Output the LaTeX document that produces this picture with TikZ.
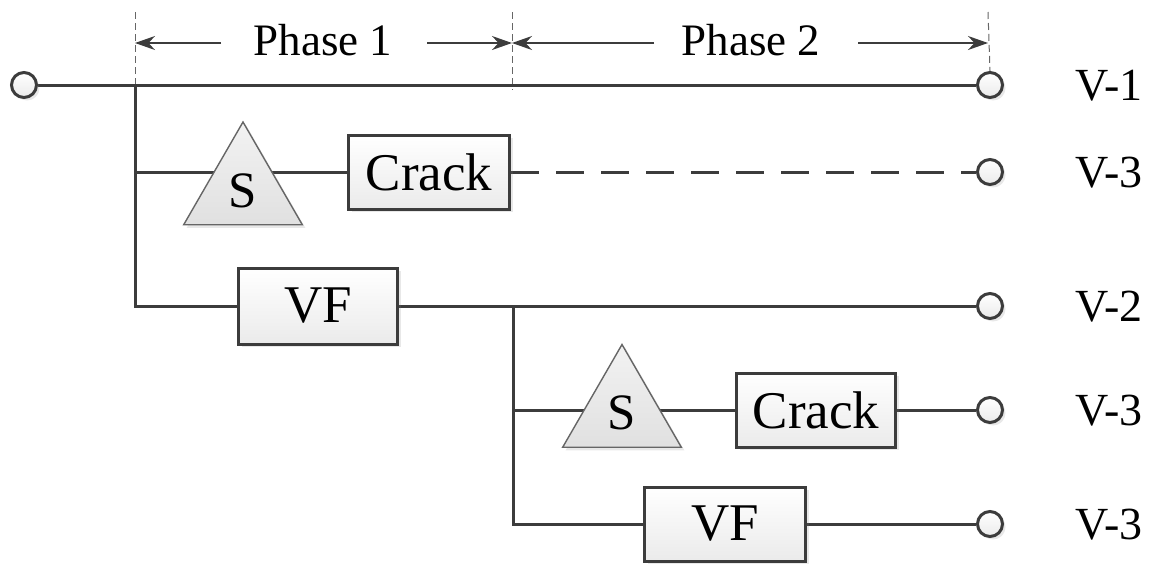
\documentclass[tikz,border=0pt]{standalone}
\usepackage{fontspec}
\setmainfont{Liberation Serif}
\usetikzlibrary{shapes.geometric,shadows,arrows.meta}
\pgfdeclarelayer{bg}
\pgfsetlayers{bg,main}
\definecolor{ink}{HTML}{3C3C3C}
\tikzset{
  wire/.style={draw=ink, line width=3pt},
  dashwire/.style={wire, dash pattern=on 28pt off 17pt},
  softshadow/.style={drop shadow={shadow xshift=3pt, shadow yshift=-3pt, opacity=0.18}},
  box/.style={rectangle, draw=ink, line width=3pt, inner sep=0pt,
    top color=white, bottom color=black!8, softshadow,
    font=\fontsize{53}{56}\selectfont},
  sensor/.style={regular polygon, regular polygon sides=3, minimum size=137pt,
    inner sep=0pt, draw=black!60, line width=1.4pt,
    top color=black!5, bottom color=black!12, softshadow,
    font=\fontsize{51}{54}\selectfont},
  port/.style={circle, draw=ink, line width=3pt, minimum size=25pt, inner sep=0pt,
    top color=white, bottom color=black!8, softshadow},
  tag/.style={anchor=base west, font=\fontsize{46}{50}\selectfont},
  phase/.style={anchor=base, font=\fontsize{45}{50}\selectfont},
  guide/.style={draw=black!60, line width=1pt, dash pattern=on 7pt off 4pt},
  span/.style={draw=ink, line width=1.3pt, -{Stealth[length=20pt,width=14pt]}},
}
\begin{document}
\begin{tikzpicture}[x=1pt,y=-1pt]
\useasboundingbox (0,0) rectangle (1154,563);

% junction points of the feeder lines
\coordinate (j1) at (135,85);
\coordinate (j2) at (135,172);
\coordinate (j3) at (135,306);
\coordinate (j4) at (513,306);
\coordinate (j5) at (513,410);
\coordinate (j6) at (513,524);

% input and output terminals
\node[port] (in) at (24,85) {};
\node[port] (o1) at (990,85) {};
\node[port] (o2) at (990,172) {};
\node[port] (o3) at (990,306) {};
\node[port] (o4) at (990,410) {};
\node[port] (o5) at (990,524) {};

% first branch: sensor and crack
\node[sensor] (s1) at (243,190.5) {S};
\node[box, minimum width=161pt, minimum height=74pt] (cr1) at (429,172) {Crack};

% VF branch
\node[box, minimum width=159pt, minimum height=76pt] (vf1) at (318,306) {VF};
\node[sensor] (s2) at (622,413) {S};
\node[box, minimum width=159pt, minimum height=74pt] (cr2) at (816,410) {Crack};
\node[box, minimum width=161pt, minimum height=74pt] (vf2) at (725,524) {VF};

% output labels
\node[tag] (l1) at (1072,100) {V-1};
\node[tag] (l2) at (1072,187) {V-3};
\node[tag] (l3) at (1072,321) {V-2};
\node[tag] (l4) at (1072,425) {V-3};
\node[tag] (l5) at (1072,539) {V-3};

% phase markers
\coordinate (g1t) at (135,12);
\coordinate (g1b) at (135,90);
\coordinate (g2t) at (512,12);
\coordinate (g2b) at (512,90);
\coordinate (g3t) at (988,12);
\coordinate (d1) at (135,43);
\coordinate (d2) at (512,43);
\coordinate (d3) at (988,43);
\coordinate (a1) at (221,43);
\coordinate (a2) at (427,43);
\coordinate (a3) at (654,43);
\coordinate (a4) at (858,43);
\node[phase] (p1) at (323,55) {Phase 1};
\node[phase] (p2) at (751,55) {Phase 2};

\begin{pgfonlayer}{bg}
  \draw[guide] (g1t) -- (g1b);
  \draw[guide] (g2t) -- (g2b);
  \draw[guide] (g3t) -- (o1.north);
  \draw[span] (a1) -- (d1);
  \draw[span] (a2) -- (d2);
  \draw[span] (a3) -- (d2);
  \draw[span] (a4) -- (d3);

  \draw[wire] (in) -- (o1);
  \draw[wire] (j1) -- (j3) -- (vf1.west);
  \draw[wire] (j2) -- (cr1.west);
  \draw[dashwire] (cr1.east) -- (o2.west);
  \draw[wire] (vf1.east) -- (o3);
  \draw[wire] (j4) -- (j6) -- (vf2.west);
  \draw[wire] (j5) -- (cr2.west);
  \draw[wire] (cr2.east) -- (o4);
  \draw[wire] (vf2.east) -- (o5);
\end{pgfonlayer}
\end{tikzpicture}
\end{document}
